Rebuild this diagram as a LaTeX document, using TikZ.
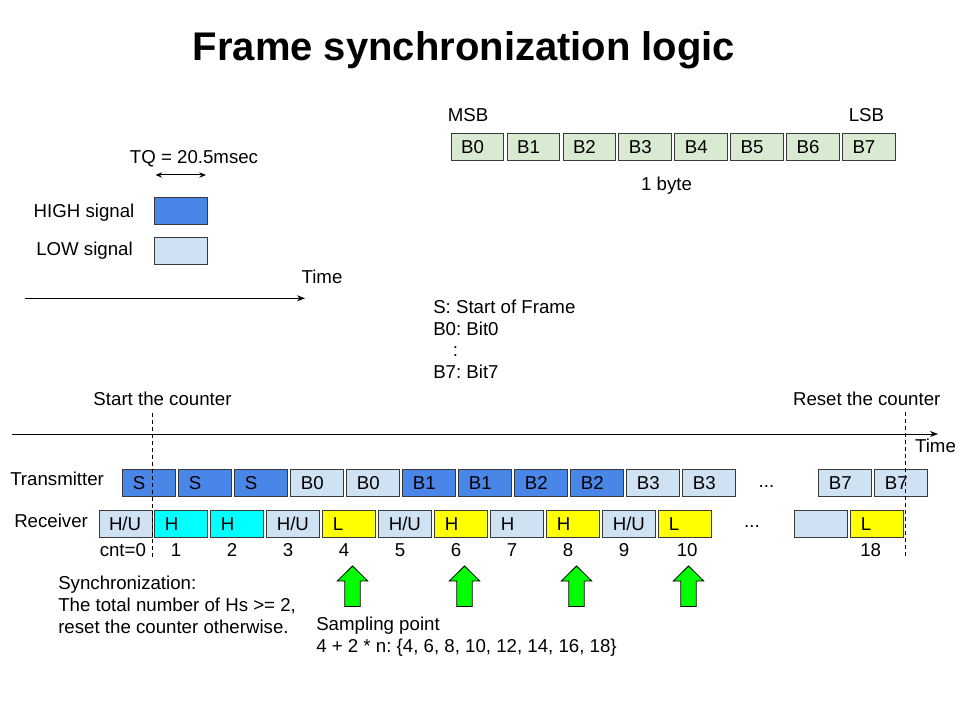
\documentclass[tikz,border=0pt]{standalone}
\usepackage{fontspec}
\setmainfont{Liberation Sans}
\usetikzlibrary{arrows.meta}
\definecolor{hi}{HTML}{4A86E8}
\definecolor{lo}{HTML}{CFE2F3}
\definecolor{grn}{HTML}{D9EAD3}
\definecolor{cyn}{HTML}{00FFFF}
\definecolor{yel}{HTML}{FFFF00}
\definecolor{gar}{HTML}{00FF00}
\definecolor{edge}{HTML}{3A3A3A}
\frenchspacing
\begin{document}
\begin{tikzpicture}[x=0.75pt,y=-0.75pt,
  every node/.style={font=\fontsize{14}{16.8}\selectfont, inner sep=0pt},
  txt/.style={anchor=base},
  ltxt/.style={anchor=base west},
  cell/.style={draw=edge, line width=0.75pt, anchor=north west,
    minimum height=20.25pt, text width=39.75pt, align=left,
    text height=10pt, text depth=0pt,
    execute at begin node={\hspace*{7.5pt}}},
  bytecell/.style={cell, fill=grn, text width=39.5pt, minimum height=20.5pt},
  hicell/.style={cell, fill=hi},
  locell/.style={cell, fill=lo},
  cycell/.style={cell, fill=cyn},
  yecell/.style={cell, fill=yel},
  axis/.style={line width=0.75pt, -{Stealth[length=6pt,width=4.5pt]}},
  marker/.style={line width=0.75pt, dash pattern=on 3pt off 2.25pt},
  samplearrow/.style={draw=black, line width=0.6pt, fill=gar},
]
\useasboundingbox (0,0) rectangle (960,720);

% title
\node[txt, font=\fontsize{30}{36}\selectfont\bfseries] (title) at (464,61) {Frame synchronization logic};

% legend
\node[txt] (tq) at (194,164) {TQ = 20.5msec};
\coordinate (tqa) at (155.5,175);
\coordinate (tqb) at (206,175);
\draw[line width=0.75pt, {Stealth[length=5pt,width=4pt]}-{Stealth[length=5pt,width=4pt]}] (tqa) -- (tqb);
\node[txt] (hilbl) at (84,217.4) {HIGH signal};
\node[txt] (lolbl) at (84.5,255.7) {LOW signal};
\node[draw=edge, line width=0.75pt, fill=hi, anchor=north west, minimum width=39.75pt, minimum height=20.25pt] (hibox) at (154,197) {};
\node[draw=edge, line width=0.75pt, fill=lo, anchor=north west, minimum width=39.75pt, minimum height=20.25pt] (lobox) at (154,237) {};
\node[txt] (time1) at (322,283.4) {Time};
\coordinate (t1a) at (25,298.3);
\coordinate (t1b) at (305,298.3);
\draw[axis] (t1a) -- (t1b);

% byte
\node[txt] (msb) at (468,121.7) {MSB};
\node[txt] (lsb) at (866.5,121.7) {LSB};
\foreach \i in {0,...,7} {
  \node[bytecell] (byte\i) at ({450.7+55.9*\i},132.7) {B\i};
}
\node[txt] (onebyte) at (666.5,190.5) {1 byte};

% description
\node[ltxt] (d1) at (433,313) {S: Start of Frame};
\node[ltxt] (d2) at (433,335) {B0: Bit0};
\node[ltxt] (d3) at (452.5,356.5) {:};
\node[ltxt] (d4) at (433,378) {B7: Bit7};

% timeline
\node[txt] (start) at (162.5,405) {Start the counter};
\node[txt] (reset) at (866.7,405) {Reset the counter};
\coordinate (ta) at (12,434);
\coordinate (tb) at (938,434);
\draw[axis] (ta) -- (tb);
\node[txt] (time2) at (935.5,452.7) {Time};

% transmitter
\node[ltxt] (tx) at (10,485) {Transmitter};
\node[hicell] (t0) at (122.3,469.3) {S};
\node[hicell] (t1) at (178.3,469.3) {S};
\node[hicell] (t2) at (234.3,469.3) {S};
\node[locell] (t3) at (290.3,469.3) {B0};
\node[locell] (t4) at (346.3,469.3) {B0};
\node[hicell] (t5) at (402.3,469.3) {B1};
\node[hicell] (t6) at (458.3,469.3) {B1};
\node[hicell] (t7) at (514.3,469.3) {B2};
\node[hicell] (t8) at (570.3,469.3) {B2};
\node[locell] (t9) at (626.3,469.3) {B3};
\node[locell] (t10) at (682.3,469.3) {B3};
\node[txt] (tdots) at (766.5,487) {...};
\node[locell] (t11) at (818.3,469.3) {B7};
\node[locell] (t12) at (874.3,469.3) {B7};

% receiver
\node[ltxt] (rx) at (14,527.3) {Receiver};
\node[locell] (r0) at (98.5,509.7) {H/U};
\node[cycell] (r1) at (154.3,509.7) {H};
\node[cycell] (r2) at (210.3,509.7) {H};
\node[locell] (r3) at (266.3,509.7) {H/U};
\node[yecell] (r4) at (322.3,509.7) {L};
\node[locell] (r5) at (378.3,509.7) {H/U};
\node[yecell] (r6) at (434.3,509.7) {H};
\node[locell] (r7) at (490.3,509.7) {H};
\node[yecell] (r8) at (546.3,509.7) {H};
\node[locell] (r9) at (602.3,509.7) {H/U};
\node[yecell] (r10) at (658.3,509.7) {L};
\node[txt] (rdots) at (752,527.3) {...};
\node[locell] (r11) at (794.3,509.7) {};
\node[yecell] (r12) at (850.3,509.7) {L};

% counts
\node[ltxt] (c0) at (99.5,556.7) {cnt=0};
\foreach \n in {1,...,9} {
  \node[txt] (c\n) at ({176+56*(\n-1)},556.7) {\n};
}
\node[ltxt] (c10) at (676.5,556.7) {10};
\node[ltxt] (c18) at (860,556.7) {18};

% dashed markers
\coordinate (m1a) at (152.7,413);
\coordinate (m1b) at (152.7,558);
\coordinate (m2a) at (905,412);
\coordinate (m2b) at (905,557);
\draw[marker] (m1a) -- (m1b);
\draw[marker] (m2a) -- (m2b);

% sampling arrows
\foreach \cx in {352.5,464.5,576.5,688.5} {
  \draw[samplearrow] (\cx,566) -- (\cx+15.2,581) -- (\cx+7.7,581) -- (\cx+7.7,606.5)
    -- (\cx-7.7,606.5) -- (\cx-7.7,581) -- (\cx-15.2,581) -- cycle;
}

% notes
\node[ltxt] (s1) at (58,589.5) {Synchronization:};
\node[ltxt] (s2) at (58,611.5) {The total number of Hs >= 2,};
\node[ltxt] (s3) at (58,633.5) {reset the counter otherwise.};
\node[ltxt] (p1) at (316,630.5) {Sampling point};
\node[ltxt] (p2) at (316,652.5) {4 + 2 * n: \{4, 6, 8, 10, 12, 14, 16, 18\}};
\end{tikzpicture}
\end{document}
